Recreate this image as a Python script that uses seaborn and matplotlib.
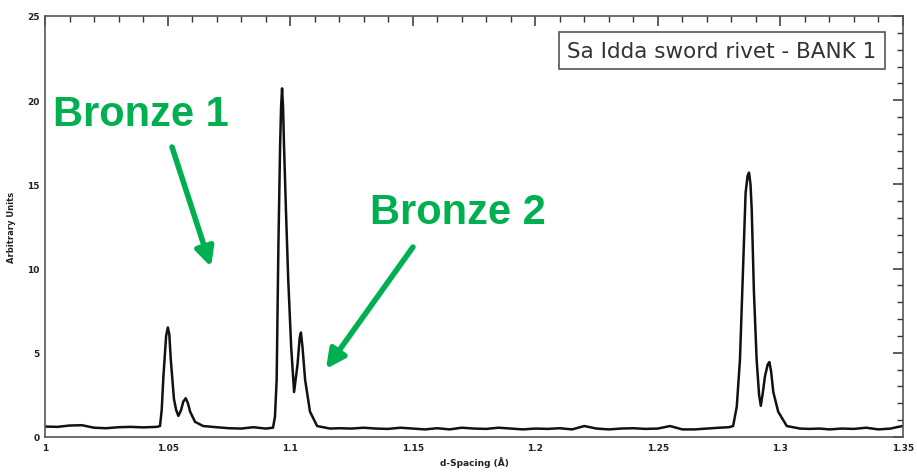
import matplotlib
matplotlib.use("Agg")
import matplotlib.pyplot as plt
import seaborn as sns
import pandas as pd
from matplotlib.ticker import MultipleLocator, FixedLocator

# ---- data ----
d_spacing = [1.000, 1.005, 1.010, 1.015, 1.020, 1.025, 1.030, 1.035, 1.040, 1.0455,
             1.0469, 1.0476, 1.0483, 1.0494, 1.0501, 1.0507, 1.0513, 1.0526, 1.0535, 1.0544,
             1.0555, 1.0564, 1.0574, 1.0583, 1.0592, 1.0612, 1.0645, 1.070, 1.075, 1.080,
             1.085, 1.090, 1.0930, 1.0938, 1.0945, 1.0952, 1.0959, 1.0963, 1.0967, 1.0971,
             1.0975, 1.0983, 1.0992, 1.1004, 1.1016, 1.1030, 1.1039, 1.1044, 1.1050, 1.1061,
             1.1081, 1.1110, 1.1163, 1.120, 1.125, 1.130, 1.135, 1.140, 1.145, 1.150,
             1.155, 1.160, 1.165, 1.170, 1.175, 1.180, 1.185, 1.190, 1.195, 1.200,
             1.205, 1.210, 1.215, 1.220, 1.225, 1.230, 1.235, 1.240, 1.245, 1.250,
             1.255, 1.260, 1.265, 1.270, 1.275, 1.2790, 1.2807, 1.2822, 1.2835, 1.2849,
             1.2858, 1.2866, 1.2872, 1.2878, 1.2883, 1.2892, 1.2903, 1.2913, 1.2920, 1.2928,
             1.2937, 1.2948, 1.2955, 1.2962, 1.2971, 1.2991, 1.3026, 1.308, 1.312, 1.316,
             1.320, 1.325, 1.330, 1.335, 1.340, 1.345, 1.348, 1.350]
intensity = [0.62, 0.60, 0.68, 0.70, 0.55, 0.52, 0.58, 0.60, 0.57, 0.60,
             0.65, 1.6, 3.6, 6.0, 6.5, 6.1, 4.6, 2.25, 1.6, 1.25,
             1.6, 2.1, 2.3, 2.0, 1.5, 0.90, 0.65, 0.58, 0.52, 0.50,
             0.58, 0.50, 0.55, 1.2, 3.4, 11.3, 17.3, 19.6, 20.7, 19.6,
             17.3, 13.4, 9.4, 5.4, 2.67, 4.3, 5.9, 6.2, 5.4, 3.4,
             1.5, 0.65, 0.50, 0.52, 0.50, 0.55, 0.50, 0.48, 0.55, 0.50,
             0.45, 0.52, 0.45, 0.55, 0.50, 0.48, 0.55, 0.50, 0.45, 0.50,
             0.48, 0.52, 0.45, 0.65, 0.50, 0.45, 0.50, 0.52, 0.48, 0.50,
             0.65, 0.45, 0.45, 0.50, 0.55, 0.58, 0.65, 1.8, 4.6, 10.6,
             14.5, 15.5, 15.7, 15.0, 13.5, 8.6, 4.6, 2.5, 1.85, 2.6,
             3.6, 4.3, 4.45, 3.9, 2.67, 1.5, 0.65, 0.50, 0.48, 0.50,
             0.45, 0.50, 0.48, 0.55, 0.45, 0.50, 0.60, 0.65]

x_ticks = [1.0, 1.05, 1.1, 1.15, 1.2, 1.25, 1.3, 1.35]
x_tick_labels = ["1", "1.05", "1.1", "1.15", "1.2", "1.25", "1.3", "1.35"]
y_ticks = [0, 5, 10, 15, 20, 25]
y_tick_labels = ["0", "5", "10", "15", "20", "25"]

title_text = "Sa Idda sword rivet - BANK 1"
x_label = "d-Spacing (Å)"
y_label = "Arbitrary Units"
annotations = ["Bronze 1", "Bronze 2"]

df = pd.DataFrame({"d": d_spacing, "I": intensity})

sns.set_style("white")
plt.rcParams["font.family"] = ["DejaVu Sans"]

fig = plt.figure(figsize=(9.17, 4.77), dpi=100)
ax = fig.add_axes([0.0491, 0.0818, 0.9356, 0.8826])

sns.lineplot(data=df, x="d", y="I", ax=ax, color="#111111", linewidth=1.8,
             estimator=None, sort=False, solid_joinstyle="round")

ax.set_xlim(1.0, 1.35)
ax.set_ylim(0, 25)
ax.xaxis.set_major_locator(FixedLocator(x_ticks))
ax.set_xticklabels(x_tick_labels)
ax.yaxis.set_major_locator(FixedLocator(y_ticks))
ax.set_yticklabels(y_tick_labels)
ax.xaxis.set_minor_locator(MultipleLocator(0.01))
ax.yaxis.set_minor_locator(MultipleLocator(1))
ax.tick_params(which="both", direction="in", top=True, right=True,
               colors="#333333", labelcolor="#222222")
ax.tick_params(which="major", length=7, width=1.1, labelsize=6.5, pad=4)
ax.tick_params(which="minor", length=4, width=1.0)
for lab in ax.get_xticklabels() + ax.get_yticklabels():
    lab.set_fontweight("bold")
for s in ax.spines.values():
    s.set_color("#555555")
    s.set_linewidth(1.2)

ax.set_xlabel(x_label, fontsize=6.5, fontweight="bold", color="#222222", labelpad=3)
ax.set_ylabel(y_label, fontsize=6, fontweight="bold", color="#222222", labelpad=8)

ax.text(0.969, 0.918, title_text, transform=ax.transAxes, ha="right", va="center",
        fontsize=15.5, color="#333333",
        bbox=dict(boxstyle="square,pad=0.4", fc="white", ec="#555555", lw=1.2))

green = "#00B050"
ax.text(1.0033, 19.18, annotations[0], fontsize=30, fontweight="bold", color=green,
        family=["Liberation Sans", "DejaVu Sans"], ha="left", va="center")
ax.text(1.1326, 13.36, annotations[1], fontsize=30, fontweight="bold", color=green,
        family=["Liberation Sans", "DejaVu Sans"], ha="left", va="center")
ax.annotate("", xy=(1.0677, 10.10), xytext=(1.0518, 17.22),
            arrowprops=dict(arrowstyle="-|>", color=green, lw=4, mutation_scale=28,
                            shrinkA=0, shrinkB=0))
ax.annotate("", xy=(1.1146, 4.04), xytext=(1.1501, 11.28),
            arrowprops=dict(arrowstyle="-|>", color=green, lw=4, mutation_scale=28,
                            shrinkA=0, shrinkB=0))

fig.savefig("out.png", dpi=100)
